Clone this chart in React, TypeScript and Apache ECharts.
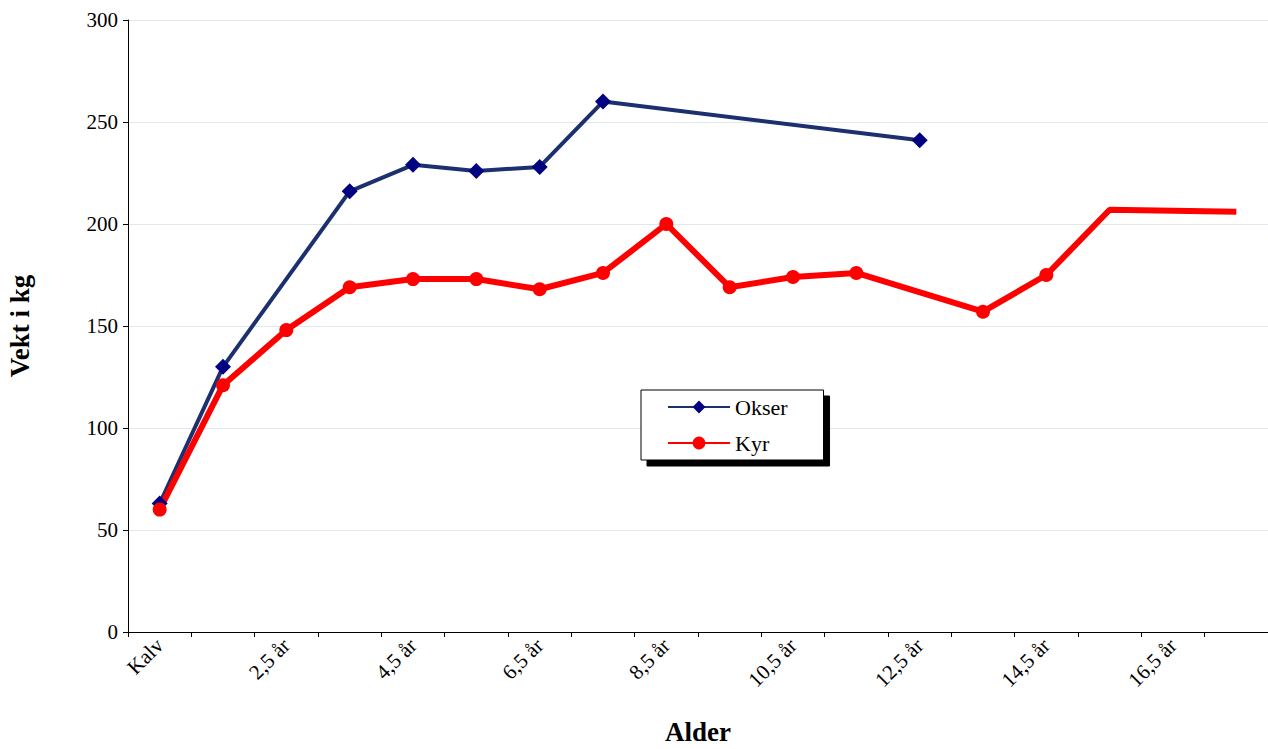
import React, { useEffect, useRef } from "react";
import * as echarts from "echarts";

const categories = ["Kalv","1,5 år","2,5 år","3,5 år","4,5 år","5,5 år","6,5 år","7,5 år","8,5 år","9,5 år","10,5 år","11,5 år","12,5 år","13,5 år","14,5 år","15,5 år","16,5 år","17,5 år"];
const okser = [63,130,null,216,229,226,228,260,null,null,null,null,241,null,null,null,null,null];
const kyr = [60,121,148,169,173,173,168,176,200,169,174,176,null,157,175,207,null,206];
const kyrNoMarker = ["15,5 år", "17,5 år"];

export default function App() {
  const ref = useRef<HTMLDivElement>(null);
  useEffect(() => {
    const chart = echarts.init(ref.current!, null, { renderer: "svg" });
    const font = "Liberation Serif";
    chart.setOption({
      animation: false,
      textStyle: { fontFamily: font },
      grid: { left: 128, right: 0, top: 20, bottom: 117, outerBoundsMode: "none", containLabel: false },
      legend: {
        orient: "vertical", left: 641, top: 390,
        padding: [6, 36, 6, 26], itemGap: 14, itemWidth: 62, itemHeight: 16,
        backgroundColor: "#fff", borderColor: "#000", borderWidth: 1,
        shadowColor: "#000", shadowOffsetX: 6, shadowOffsetY: 6, shadowBlur: 0,
        textStyle: { fontFamily: font, fontSize: 22, color: "#000" },
        data: ["Okser", "Kyr"],
      },
      xAxis: {
        type: "category", data: categories, boundaryGap: true,
        name: "Alder", nameLocation: "middle", nameGap: 86,
        nameTextStyle: { fontFamily: font, fontSize: 27, fontWeight: "bold", color: "#000" },
        axisLine: { lineStyle: { color: "#000" } },
        axisTick: { show: true, interval: 0, lineStyle: { color: "#000" } },
        axisLabel: { interval: 1, rotate: 45, fontFamily: font, fontSize: 21, color: "#000", margin: 10 },
      },
      yAxis: {
        type: "value", min: 0, max: 300, interval: 50,
        name: "Vekt i kg", nameLocation: "middle", nameGap: 95, nameRotate: 90,
        nameTextStyle: { fontFamily: font, fontSize: 27, fontWeight: "bold", color: "#000" },
        axisLine: { show: true, lineStyle: { color: "#000" } },
        axisTick: { show: true, lineStyle: { color: "#000" } },
        axisLabel: { fontFamily: font, fontSize: 21, color: "#000", margin: 10 },
        splitLine: { lineStyle: { color: "#dfe8ee" } },
      },
      series: [
        {
          name: "Okser", type: "line", data: okser, connectNulls: true,
          symbol: "diamond", symbolSize: 16,
          lineStyle: { color: "#1c2f6e", width: 4 }, itemStyle: { color: "#000080" },
        },
        {
          name: "Kyr", type: "line", connectNulls: true,
          data: kyr.map((v, i) => kyrNoMarker.includes(categories[i]) ? { value: v, symbol: "none" } : v),
          symbol: "circle", symbolSize: 14,
          lineStyle: { color: "#ff0000", width: 6 }, itemStyle: { color: "#ff0000" },
        },
      ],
    });
    return () => chart.dispose();
  }, []);
  return <div ref={ref} style={{ position: "fixed", left: 0, top: 0, width: 1268, height: 749, background: "#fff" }} />;
}
